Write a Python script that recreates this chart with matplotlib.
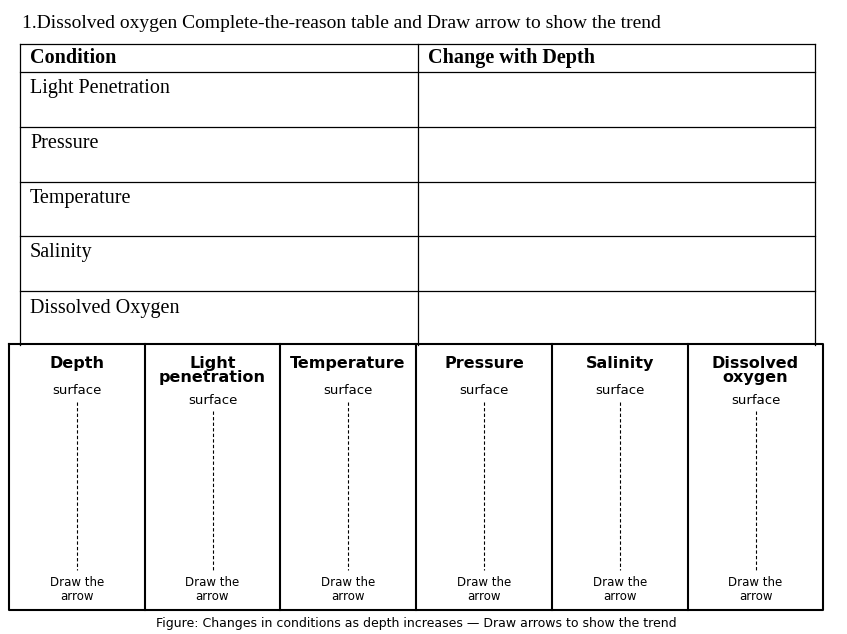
import matplotlib.pyplot as plt

title = "1.Dissolved oxygen Complete-the-reason table and Draw arrow to show the trend"
table_headers = ["Condition", "Change with Depth"]
conditions = ["Light Penetration", "Pressure", "Temperature", "Salinity", "Dissolved Oxygen"]
columns = ["Depth", "Light\npenetration", "Temperature", "Pressure", "Salinity", "Dissolved\noxygen"]
caption = "Figure: Changes in conditions as depth increases \u2014 Draw arrows to show the trend"

fig = plt.figure(figsize=(8.47, 6.34), dpi=100)
ax = fig.add_axes([0, 0, 1, 1])
ax.set_xlim(0, 847)
ax.set_ylim(634, 0)
ax.axis('off')

serif = 'Liberation Serif'
ax.text(22, 23, title, fontsize=14, family=serif, va='center')

# top table
left, mid, right = 20, 418, 815
rows = [44, 72, 127, 182, 236, 291, 345]
for y in rows[:-1]:
    ax.plot([left, right], [y, y], color='black', lw=0.9)
ax.plot([left, left], [rows[0], rows[-1]], color='black', lw=0.9)
ax.plot([mid, mid], [rows[0], rows[-1]], color='black', lw=0.9)
ax.plot([right, right], [rows[0], rows[-1]], color='black', lw=0.9)
ax.text(30, 58, table_headers[0], fontsize=14.5, family=serif, weight='bold', va='center')
ax.text(428, 58, table_headers[1], fontsize=14.5, family=serif, weight='bold', va='center')
for i, c in enumerate(conditions):
    ax.text(30, rows[i + 1] + 17, c, fontsize=14.5, family=serif, va='center')

# bottom panel
xs = [9, 145, 280, 416, 552, 688, 823]
top, bot = 344, 610
ax.plot([xs[0], xs[-1], xs[-1], xs[0], xs[0]], [top, top, bot, bot, top], color='black', lw=1.5)
for x in xs[1:-1]:
    ax.plot([x, x], [top, bot], color='black', lw=1.5)
for i, name in enumerate(columns):
    cx = (xs[i] + xs[i + 1]) / 2
    two = '\n' in name
    ax.text(cx, 356, name, fontsize=11.5, weight='bold', ha='center', va='top',
            family='DejaVu Sans', linespacing=0.9)
    sy = 400 if two else 391
    ax.text(cx, sy, "surface", fontsize=9.5, ha='center', va='center')
    ax.plot([cx, cx], [sy + 11, 570], color='black', lw=0.8, ls=(0, (3, 2)))
    ax.text(cx, 590, "Draw the\narrow", fontsize=8.5, ha='center', va='center', linespacing=1.1)

ax.text(416, 624, caption, fontsize=9, ha='center', va='center')

fig.savefig('out.png', dpi=100)
